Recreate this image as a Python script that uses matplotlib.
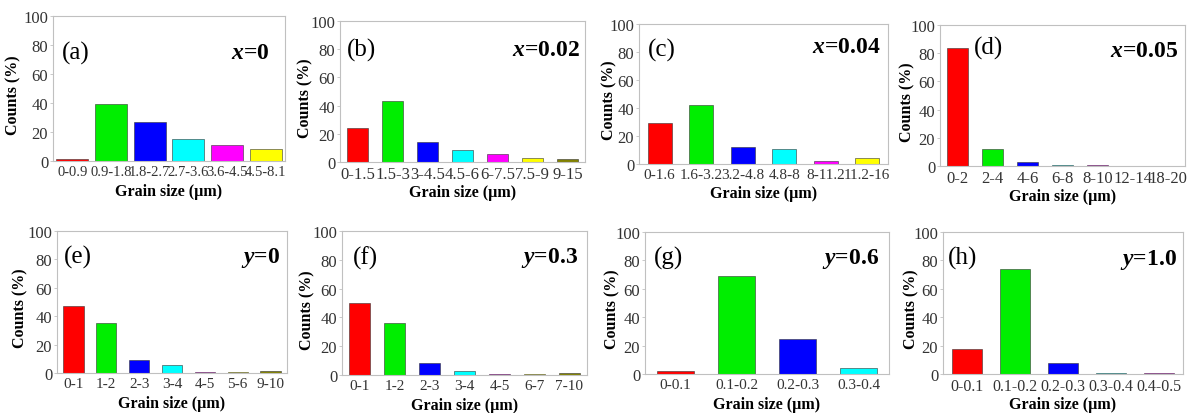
import matplotlib
matplotlib.use("Agg")
import matplotlib.pyplot as plt

plt.rcParams['font.family'] = ['Liberation Serif', 'DejaVu Serif']
plt.rcParams['mathtext.fontset'] = 'custom'
plt.rcParams['mathtext.it'] = 'Liberation Serif:italic:bold'
plt.rcParams['mathtext.rm'] = 'Liberation Serif:bold'

# data
labels_a = ['0-0.9', '0.9-1.8', '1.8-2.7', '2.7-3.6', '3.6-4.5', '4.5-8.1']
counts_a = [1.5, 39, 27, 15, 11, 8]
labels_b = ['0-1.5', '1.5-3', '3-4.5', '4.5-6', '6-7.5', '7.5-9', '9-15']
counts_b = [24, 43, 14, 8.5, 5.5, 2.5, 2]
labels_c = ['0-1.6', '1.6-3.2', '3.2-4.8', '4.8-8', '8-11.2', '11.2-16']
counts_c = [29, 42, 12, 11, 2, 4]
labels_d = ['0-2', '2-4', '4-6', '6-8', '8-10', '12-14', '18-20']
counts_d = [84, 12, 3, 0.5, 0.5, 0.3, 0.3]
labels_e = ['0-1', '1-2', '2-3', '3-4', '4-5', '5-6', '9-10']
counts_e = [47, 35, 9.5, 5.5, 1, 0.5, 1.5]
labels_f = ['0-1', '1-2', '2-3', '3-4', '4-5', '6-7', '7-10']
counts_f = [50, 36, 8.5, 3, 1, 0.5, 1.5]
labels_g = ['0-0.1', '0.1-0.2', '0.2-0.3', '0.3-0.4']
counts_g = [2, 69, 25, 4.5]
labels_h = ['0-0.1', '0.1-0.2', '0.2-0.3', '0.3-0.4', '0.4-0.5']
counts_h = [17.5, 74, 7.5, 0.5, 1]

tags = ['(a)', '(b)', '(c)', '(d)', '(e)', '(f)', '(g)', '(h)']
conds = ['$x$=0', '$x$=0.02', '$x$=0.04', '$x$=0.05',
         '$y$=0', '$y$=0.3', '$y$=0.6', '$y$=1.0']

colors = ['#ff0000', '#00ee00', '#0000ff', '#00ffff', '#ff00ff', '#ffff00', '#808000']

W, H = 1187., 414.
# axes boxes in pixels: left, right, top, bottom
boxes = [(53, 285, 17, 162), (340, 585, 22, 163), (639, 888, 25, 165), (940, 1185, 26, 167),
         (57, 287, 232, 374), (342, 587, 232, 376), (645, 889, 233, 375), (943, 1183, 233, 375)]
widths = [0.82, 0.62, 0.58, 0.62, 0.62, 0.62, 0.6, 0.61]
xtick_size = [10.5, 12, 11, 12, 11, 11, 11, 11.5]
tag_pos = [(0.04, 0.75), (0.03, 0.80), (0.036, 0.82), (0.14, 0.84),
           (0.03, 0.82), (0.045, 0.82), (0.035, 0.82), (0.02, 0.82)]
cond_pos = [(0.935, 0.75), (0.98, 0.80), (0.97, 0.84), (0.97, 0.82),
            (0.97, 0.82), (0.965, 0.82), (0.96, 0.82), (0.975, 0.81)]
ylab_x = [-0.17, -0.14, -0.12, -0.135, -0.158, -0.143, -0.135, -0.133]

all_labels = [labels_a, labels_b, labels_c, labels_d, labels_e, labels_f, labels_g, labels_h]
all_counts = [counts_a, counts_b, counts_c, counts_d, counts_e, counts_f, counts_g, counts_h]

fig = plt.figure(figsize=(11.87, 4.14), dpi=100)

for i in range(8):
    l, r, t, b = boxes[i]
    ax = fig.add_axes([l / W, 1 - b / H, (r - l) / W, (b - t) / H])
    n = len(all_labels[i])
    ax.bar(range(n), all_counts[i], width=widths[i], color=colors[:n],
           edgecolor='#333333', linewidth=0.4)
    ax.set_xlim(-0.5, n - 0.5)
    ax.set_ylim(0, 100)
    ax.set_yticks([0, 20, 40, 60, 80, 100])
    ax.set_xticks(range(n))
    ax.set_xticklabels(all_labels[i])
    for s in ax.spines.values():
        s.set_color('#c0c0c0')
        s.set_linewidth(0.8)
    ax.tick_params(axis='y', length=2, width=0.6, color='#c0c0c0',
                   labelsize=12, labelcolor='#333333', pad=1.5)
    ax.tick_params(axis='x', length=0, pad=3, labelsize=xtick_size[i], labelcolor='#333333')
    ax.set_ylabel('Counts (%)', fontsize=11.5, fontweight='bold', va='center')
    ax.yaxis.set_label_coords(ylab_x[i], 0.46)
    ax.set_xlabel(u'Grain size (\u00b5m)', fontsize=11.5, fontweight='bold', va='center')
    ax.xaxis.set_label_coords(0.5, -0.21)
    ax.text(tag_pos[i][0], tag_pos[i][1], tags[i], transform=ax.transAxes,
            fontsize=18, ha='left', va='center')
    ax.text(cond_pos[i][0], cond_pos[i][1], conds[i], transform=ax.transAxes,
            fontsize=17, fontweight='bold', ha='right', va='center')

plt.savefig('out.png', dpi=100)
